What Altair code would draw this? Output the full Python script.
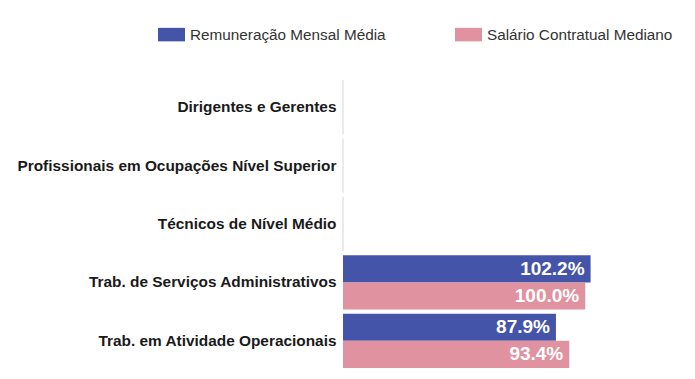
import altair as alt
import pandas as pd

categories = [
    "Dirigentes e Gerentes",
    "Profissionais em Ocupações Nível Superior",
    "Técnicos de Nível Médio",
    "Trab. de Serviços Administrativos",
    "Trab. em Atividade Operacionais",
]
series = ["Remuneração Mensal Média", "Salário Contratual Mediano"]
remuneracao = [0, 0, 0, 102.2, 87.9]
salario = [0, 0, 0, 100.0, 93.4]
colors = ["#4454A8", "#E092A0"]

rows = []
for c, a, b in zip(categories, remuneracao, salario):
    for s, v in zip(series, [a, b]):
        rows.append({"cat": c, "serie": s, "valor": v,
                     "label": f"{v:.1f}%" if v > 0 else ""})
df = pd.DataFrame(rows)

FONT = "Liberation Sans"

y_enc = alt.Y(
    "cat:N", sort=categories,
    scale=alt.Scale(paddingInner=0.07, paddingOuter=0.035),
    axis=alt.Axis(title=None, labelFontWeight="bold", labelFontSize=15.4,
                  labelColor="#1a1a1a", ticks=False, domain=False,
                  labelPadding=7, labelFont=FONT, labelLimit=400),
)
yoff = alt.YOffset("serie:N", sort=series,
                   scale=alt.Scale(paddingInner=0, paddingOuter=0))
x_enc = alt.X("valor:Q", scale=alt.Scale(domain=[0, 142], nice=False),
              axis=None)

base = alt.Chart(df)

bars = base.transform_filter("datum.valor > 0").mark_bar().encode(
    y=y_enc, yOffset=yoff, x=x_enc,
    color=alt.Color(
        "serie:N",
        scale=alt.Scale(domain=series, range=colors),
        legend=alt.Legend(
            title=None, orient="none", legendX=-185, legendY=-57,
            direction="horizontal", symbolType="M-1,-0.5H1V0.5H-1Z",
            symbolSize=729, symbolStrokeWidth=0, symbolOpacity=1,
            labelFontSize=15.3, labelFont=FONT, labelColor="#333333",
            labelLimit=400, columnPadding=69, labelOffset=5, padding=0,
        ),
    ),
)

zero = base.transform_filter("datum.valor == 0").mark_bar(
    stroke="#e4e4e4", strokeWidth=1, fill="white"
).encode(y=y_enc, yOffset=yoff, x=x_enc)

text = base.transform_filter("datum.valor > 0").mark_text(
    align="right", baseline="middle", dx=-6, color="white",
    fontWeight="bold", fontSize=19, font=FONT
).encode(y=y_enc, yOffset=yoff, x=x_enc, text="label:N")

chart = alt.layer(zero, bars, text).properties(
    width=344, height=292,
    padding={"left": 335, "top": 70, "right": 0, "bottom": 0},
    autosize="none",
).configure_view(stroke=None)

chart.save("out.html", embed_options={"renderer": "svg", "actions": False})
